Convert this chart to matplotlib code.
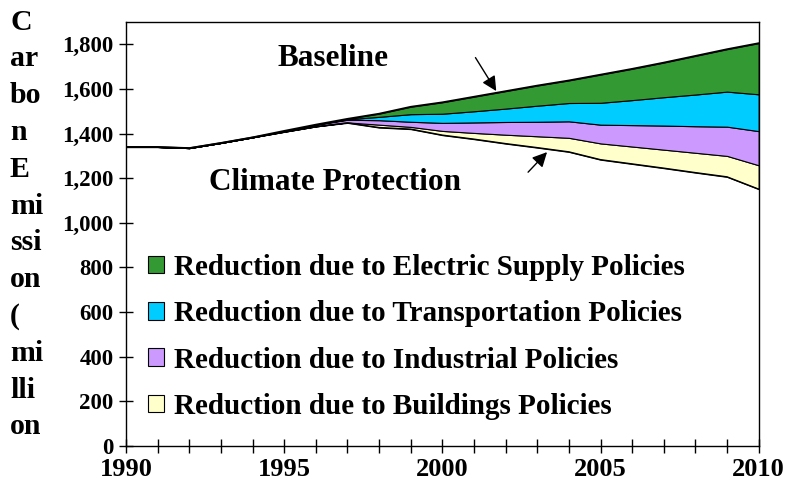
import matplotlib

matplotlib.use("Agg")
import matplotlib.pyplot as plt
import numpy as np

plt.rcParams["font.family"] = ["Liberation Serif", "DejaVu Serif"]
plt.rcParams["font.weight"] = "bold"

years = list(range(1990, 2011))
baseline = [1340, 1340, 1335, 1358, 1383, 1412, 1440, 1466, 1489, 1520, 1540,
            1565, 1590, 1615, 1638, 1664, 1690, 1718, 1748, 1778, 1805]
# reductions (million) by policy area
red_electric = [0, 0, 0, 0, 0, 0, 0, 2, 14, 33, 51,
                65, 78, 90, 101, 126, 140, 155, 173, 190, 229]
red_transport = [0, 0, 0, 0, 0, 0, 0, 2, 15, 34, 41,
                 50, 60, 72, 82, 98, 112, 127, 142, 157, 165]
red_industrial = [0, 0, 0, 0, 0, 4, 8, 12, 20, 23, 36,
                  47, 57, 65, 74, 84, 96, 108, 119, 131, 153]
red_buildings = [0, 0, 0, 0, 0, 0, 0, 2, 13, 10, 19,
                 28, 40, 51, 63, 73, 78, 83, 89, 94, 107]

labels = [
    "Reduction due to Buildings Policies",
    "Reduction due to Industrial Policies",
    "Reduction due to Transportation Policies",
    "Reduction due to Electric Supply Policies",
]
colors = ["#FFFFCC", "#CC99FF", "#00CCFF", "#339933"]

x = np.array(years)
reds = [np.array(r) for r in (red_buildings, red_industrial, red_transport, red_electric)]
protection = np.array(baseline) - sum(reds)

fig = plt.figure(figsize=(7.85, 4.96), dpi=100)
ax = fig.add_axes([126 / 785, 1 - 446 / 496, (758.7 - 126) / 785, (446 - 22) / 496])

polys = ax.stackplot(x, protection, *reds, colors=["none"] + colors,
                     edgecolor="black", linewidth=0.8)
polys[0].set_visible(False)
ax.plot(x, baseline, color="black", linewidth=1.3)
ax.plot(x, protection, color="black", linewidth=1.0)

ax.set_xlim(1990, 2010)
ax.set_ylim(0, 1900)
ax.set_yticks(range(0, 1801, 200))
ax.set_yticklabels([f"{v:,}" for v in range(0, 1801, 200)])
ax.set_xticks(range(1990, 2011))
ax.set_xticklabels([str(y) if y % 5 == 0 else "" for y in years])
ax.tick_params(axis="both", direction="inout", length=10, width=1, top=False, right=False)
ax.tick_params(axis="y", labelsize=16.5, pad=4)
ax.tick_params(axis="x", labelsize=19, pad=4)
for s in ax.spines.values():
    s.set_linewidth(1)

# annotations
ax.text(1996.55, 1735, "Baseline", fontsize=22.5, fontweight="bold", ha="center", va="center")
ax.text(1996.6, 1180, "Climate Protection", fontsize=22.5, fontweight="bold", ha="center", va="center")
ax.annotate("", xy=(2001.75, 1580), xytext=(2001.0, 1751),
            arrowprops=dict(arrowstyle="-|>", color="black", lw=1, mutation_scale=22))
ax.annotate("", xy=(2003.37, 1326), xytext=(2002.65, 1218),
            arrowprops=dict(arrowstyle="-|>", color="black", lw=1, mutation_scale=22))

handles = polys[1:][::-1]
leg = ax.legend(handles, labels[::-1], loc="upper left",
                bbox_to_anchor=(148 / 785, 1 - 254 / 496), bbox_transform=fig.transFigure,
                frameon=False, fontsize=21, borderpad=0, borderaxespad=0,
                handlelength=0.55, handleheight=0.55, handletextpad=0.35,
                labelspacing=0.66)

# y label broken over many short lines, as in the original
ylabel_parts = ["C", "ar", "bo", "n", "E", "mi", "ssi", "on", "(", "mi", "lli", "on"]
for i, part in enumerate(ylabel_parts):
    fig.text(10 / 785, 1 - (22 + i * 36.8) / 496, part, fontsize=21.5,
             fontweight="bold", ha="left", va="center")

fig.savefig("out.png", dpi=100)
